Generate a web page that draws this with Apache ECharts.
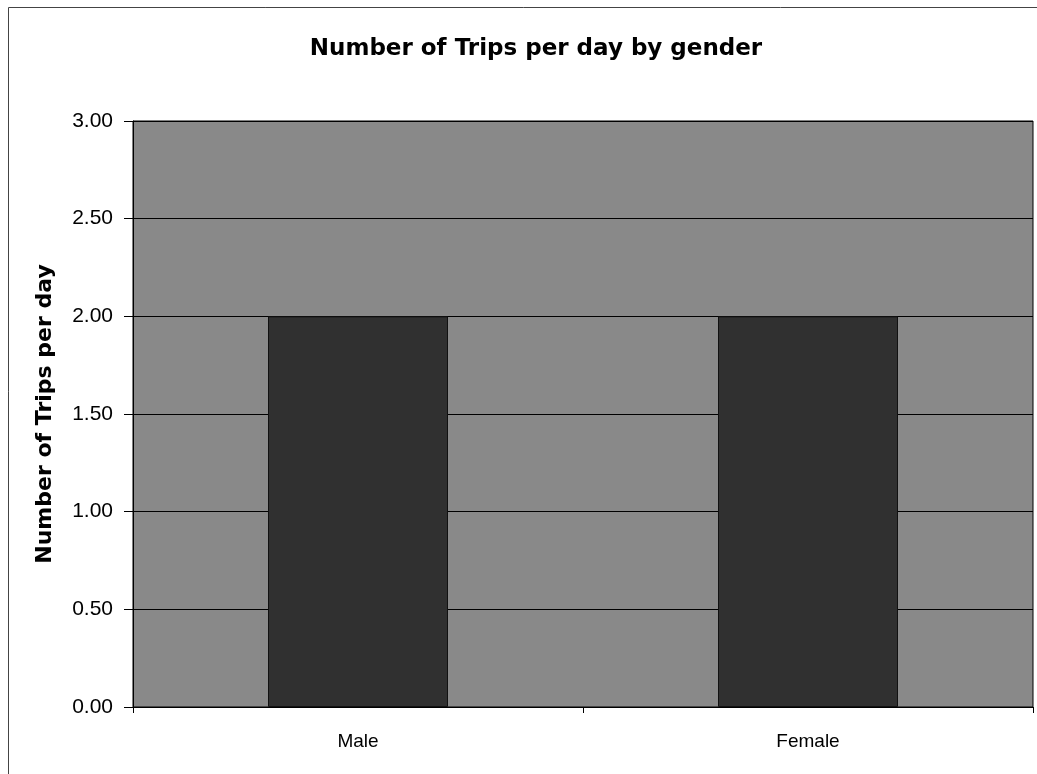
<!DOCTYPE html>
<html>
<head>
<meta charset="utf-8">
<script src="https://cdn.jsdelivr.net/npm/echarts@6/dist/echarts.min.js"></script>
<style>
  html, body { margin: 0; padding: 0; background: #fff; }
  #chart { width: 1037px; height: 774px; }
</style>
</head>
<body>
<div id="chart"></div>
<script>
// Chart data
const categories = ['Male', 'Female'];
const tripsPerDay = [2.0, 2.0];
const yTicks = { min: 0, max: 3, step: 0.5 };

const chart = echarts.init(document.getElementById('chart'), null, { renderer: 'canvas' });

const font = '"Liberation Sans", Arial, sans-serif';
const boldFont = '"DejaVu Sans", "Liberation Sans", Arial, sans-serif';

chart.setOption({
  animation: false,
  backgroundColor: '#ffffff',
  title: {
    text: 'Number of Trips per day by gender',
    left: 531,
    textAlign: 'center',
    top: 33,
    textStyle: { fontFamily: boldFont, fontSize: 23, fontWeight: 'bold', color: '#000' }
  },
  // thin frame around the whole chart area
  graphic: [{
    type: 'rect',
    shape: { x: 8.5, y: 7.5, width: 1040, height: 775 },
    style: { fill: 'none', stroke: '#444', lineWidth: 1 },
    z: -1
  }],
  grid: {
    left: 133, right: 4, top: 121, bottom: 67,
    show: true,
    backgroundColor: '#898989',
    borderColor: '#000',
    borderWidth: 1
  },
  xAxis: {
    type: 'category',
    data: categories,
    axisLine: { show: true, lineStyle: { color: '#000', width: 1 } },
    axisTick: { show: true, length: 6, alignWithLabel: false, lineStyle: { color: '#000' } },
    axisLabel: { fontFamily: font, fontSize: 19, color: '#000', margin: 25 },
    splitLine: { show: false }
  },
  yAxis: {
    type: 'value',
    min: yTicks.min,
    max: yTicks.max,
    interval: yTicks.step,
    name: 'Number of Trips per day',
    nameLocation: 'middle',
    nameGap: 77,
    nameTextStyle: { fontFamily: boldFont, fontSize: 22, fontWeight: 'bold', color: '#000' },
    axisLine: { show: true, lineStyle: { color: '#000', width: 1 } },
    axisTick: { show: true, length: 9, lineStyle: { color: '#000' } },
    axisLabel: {
      fontFamily: font, fontSize: 21, color: '#000', margin: 20,
      formatter: v => v.toFixed(2)
    },
    splitLine: { show: true, lineStyle: { color: '#000', width: 1 } }
  },
  series: [{
    type: 'bar',
    data: tripsPerDay,
    barWidth: '40%',
    itemStyle: { color: '#303030', borderColor: '#111', borderWidth: 1 }
  }]
});
</script>
</body>
</html>
